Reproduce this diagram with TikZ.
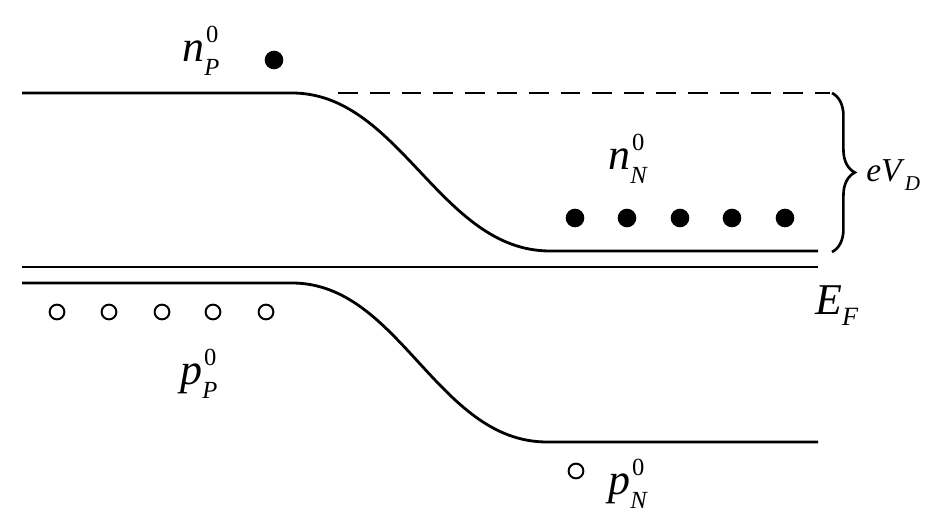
\documentclass[tikz,border=0pt]{standalone}
\usepackage{fontspec}
\setmainfont{Liberation Serif}
\usetikzlibrary{decorations.pathreplacing}

% carrier label: letter, superscript, subscript
\newcommand{\carrierlbl}[3]{\textit{#1}\rlap{\kern0.04em\raisebox{0.45em}{\fontsize{14}{14}\selectfont #2}}\raisebox{-0.3em}{\fontsize{14}{14}\selectfont\textit{#3}}}

\begin{document}
\begin{tikzpicture}[x=0.02cm, y=-0.02cm,
  band/.style={line width=1.6pt},
  electron/.style={circle, fill=black, inner sep=0pt, minimum size=10.6pt},
  hole/.style={circle, draw=black, line width=1.1pt, fill=white, inner sep=0pt, minimum size=8.4pt},
  lbl/.style={anchor=base west, inner sep=0pt, font=\fontsize{25}{30}\selectfont},
]
\useasboundingbox (0,0) rectangle (927,523);

% bands
\draw[band] (22,93) -- (292,93) .. controls (400,93) and (440,251) .. (550,251) -- (818,251);
\draw[band] (22,267) -- (818,267);
\draw[band] (22,283) -- (292,283) .. controls (400,283) and (437,442) .. (547,442) -- (818,442);
\draw[band, dash pattern=on 11.3pt off 6.8pt] (338,93) -- (830,93);

% barrier height
\coordinate (vdtop) at (832,93);
\coordinate (vdbot) at (832,252);
\draw[decorate, decoration={brace, amplitude=13pt}, line width=1.5pt] (vdtop) -- (vdbot);
\node[lbl, font=\fontsize{19}{22}\selectfont] (evd) at (866,182) {\textit{eV}\raisebox{-0.25em}{\fontsize{12}{12}\selectfont\textit{D}}};

% electrons
\node[electron] (ep) at (274,60) {};
\node[electron] (en1) at (575,218) {};
\node[electron] (en2) at (627,218) {};
\node[electron] (en3) at (680,218) {};
\node[electron] (en4) at (732,218) {};
\node[electron] (en5) at (785,218) {};

% holes
\node[hole] (hp1) at (57,312) {};
\node[hole] (hp2) at (109,312) {};
\node[hole] (hp3) at (162,312) {};
\node[hole] (hp4) at (213,312) {};
\node[hole] (hp5) at (266,312) {};
\node[hole] (hn) at (576,471) {};

% labels
\node[lbl] (npl) at (182,62) {\carrierlbl{n}{0}{P}};
\node[lbl] (nnl) at (608,170) {\carrierlbl{n}{0}{N}};
\node[lbl] (ppl) at (180,385) {\carrierlbl{p}{0}{P}};
\node[lbl] (pnl) at (608,495) {\carrierlbl{p}{0}{N}};
\node[lbl] (ef) at (815,315) {\textit{E}\raisebox{-0.23em}{\fontsize{15}{15}\selectfont\textit{F}}};
\end{tikzpicture}
\end{document}
